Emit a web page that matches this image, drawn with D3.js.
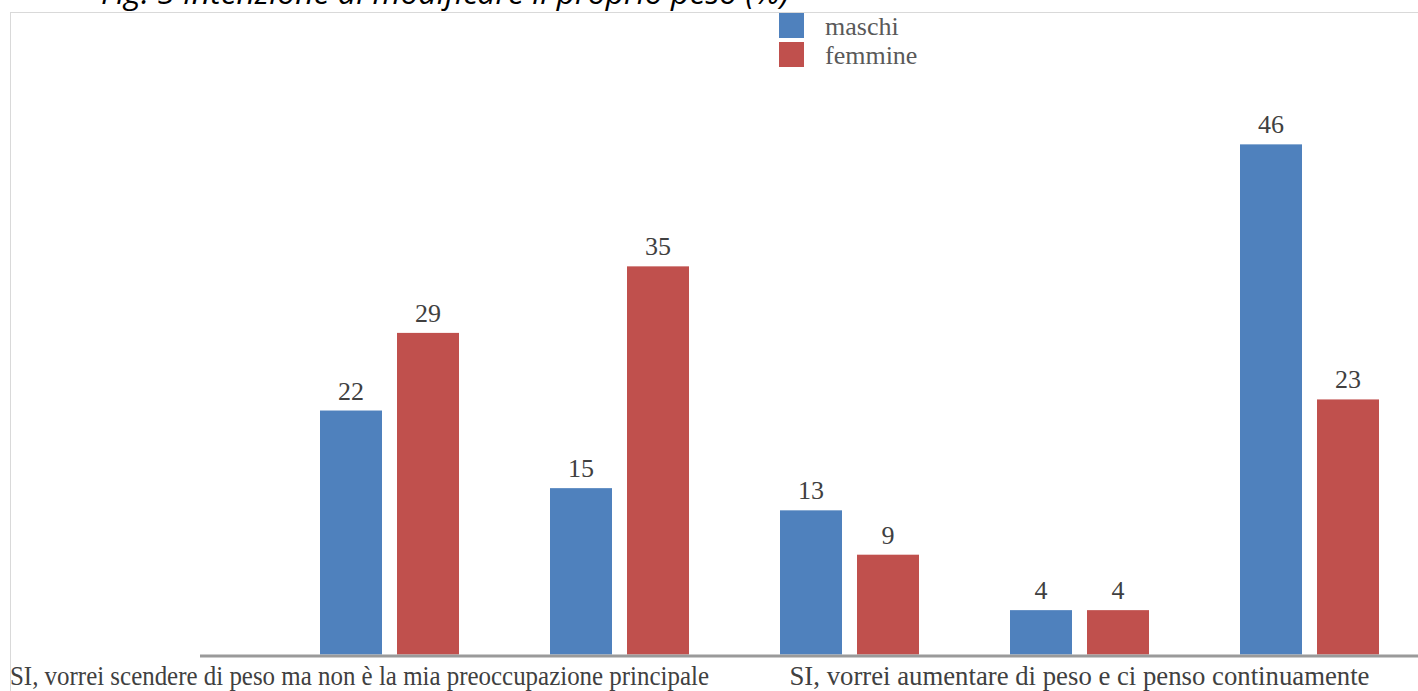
<!DOCTYPE html>
<html>
<head>
<meta charset="utf-8">
<script src="https://cdn.jsdelivr.net/npm/d3@7"></script>
<style>
  html, body { margin: 0; padding: 0; background: #fff; overflow: hidden; }
  svg { display: block; }
</style>
</head>
<body>
<div id="chart"></div>
<script>
(function () {
  'use strict';

  // categories (only the 2nd and 4th labels are printed in the original)
  const categories = [
    'SI, vorrei scendere di peso e ci penso continuamente',
    'SI, vorrei scendere di peso ma non è la mia preoccupazione principale',
    'SI, vorrei aumentare di peso ma non è la mia preoccupazione principale',
    'SI, vorrei aumentare di peso e ci penso continuamente',
    'NO, il mio peso va bene così'
  ];
  const shownLabels = [1, 3];
  const seriesNames = ['maschi', 'femmine'];
  const maschi = [22, 15, 13, 4, 46];
  const femmine = [29, 35, 9, 4, 23];
  const colors = ['#4f81bd', '#c0504d'];
  const title = 'Fig. 5 Intenzione di modificare il proprio peso (%)';

  const width = 1418, height = 691;
  const serif = '"Liberation Serif", "Times New Roman", serif';

  const svg = d3.select('#chart')
    .append('svg')
    .attr('width', width)
    .attr('height', height);

  // title, partly cut off at top like the source
  svg.append('text')
    .attr('x', 101)
    .attr('y', 4)
    .attr('font-family', '"Open Sans", sans-serif')
    .attr('font-style', 'italic')
    .attr('font-size', 31)
    .attr('textLength', 688)
    .attr('lengthAdjust', 'spacingAndGlyphs')
    .attr('fill', '#000')
    .text(title);

  // chart frame
  svg.append('rect')
    .attr('x', 10.5)
    .attr('y', 12.5)
    .attr('width', width + 20)
    .attr('height', height)
    .attr('fill', 'none')
    .attr('stroke', '#d9d9d9')
    .attr('stroke-width', 1);

  const x = d3.scaleBand()
    .domain(categories)
    .range([274.5, 1424.5])
    .paddingInner(0)
    .paddingOuter(0);

  const xInner = d3.scaleBand()
    .domain(seriesNames)
    .range([-69.5, 69.5])
    .paddingInner(15 / 77);

  const y = d3.scaleLinear()
    .domain([0, 50])
    .range([654.5, 100]);

  const rows = categories.map((c, i) => ({ cat: c, values: [maschi[i], femmine[i]] }));

  const groups = svg.append('g')
    .selectAll('g')
    .data(rows)
    .join('g')
    .attr('transform', d => `translate(${x(d.cat) + x.bandwidth() / 2},0)`);

  groups.selectAll('rect')
    .data(d => d.values.map((v, j) => ({ name: seriesNames[j], value: v, j })))
    .join('rect')
    .attr('x', d => xInner(d.name))
    .attr('width', xInner.bandwidth())
    .attr('y', d => y(d.value))
    .attr('height', d => y(0) - y(d.value))
    .attr('fill', d => colors[d.j]);

  // value labels
  groups.selectAll('text')
    .data(d => d.values.map((v, j) => ({ name: seriesNames[j], value: v })))
    .join('text')
    .attr('x', d => xInner(d.name) + xInner.bandwidth() / 2)
    .attr('y', d => y(d.value) - 11)
    .attr('text-anchor', 'middle')
    .attr('font-family', serif)
    .attr('font-size', 26)
    .attr('fill', '#404040')
    .text(d => d.value);

  // category axis line
  svg.append('line')
    .attr('x1', 200)
    .attr('x2', width)
    .attr('y1', y(0) + 1.5)
    .attr('y2', y(0) + 1.5)
    .attr('stroke', '#9a9a9a')
    .attr('stroke-width', 3);

  // category labels (the first one is pushed to the frame edge)
  const labelWidths = [699, 580];
  shownLabels.forEach((i, k) => {
    const cx = x(categories[i]) + x.bandwidth() / 2;
    svg.append('text')
      .attr('x', k === 0 ? 10 : cx - labelWidths[k] / 2)
      .attr('y', 685)
      .attr('font-family', serif)
      .attr('font-size', 28)
      .attr('textLength', labelWidths[k])
      .attr('lengthAdjust', 'spacingAndGlyphs')
      .attr('fill', '#404040')
      .text(categories[i]);
  });

  // legend
  const legend = svg.append('g')
    .selectAll('g')
    .data(seriesNames)
    .join('g')
    .attr('transform', (d, i) => `translate(779,${13 + i * 29})`);

  legend.append('rect')
    .attr('width', 25)
    .attr('height', 25)
    .attr('fill', (d, i) => colors[i]);

  legend.append('text')
    .attr('x', 46)
    .attr('y', 22)
    .attr('font-family', serif)
    .attr('font-size', 26)
    .attr('fill', '#595959')
    .text(d => d);
})();
</script>
</body>
</html>
